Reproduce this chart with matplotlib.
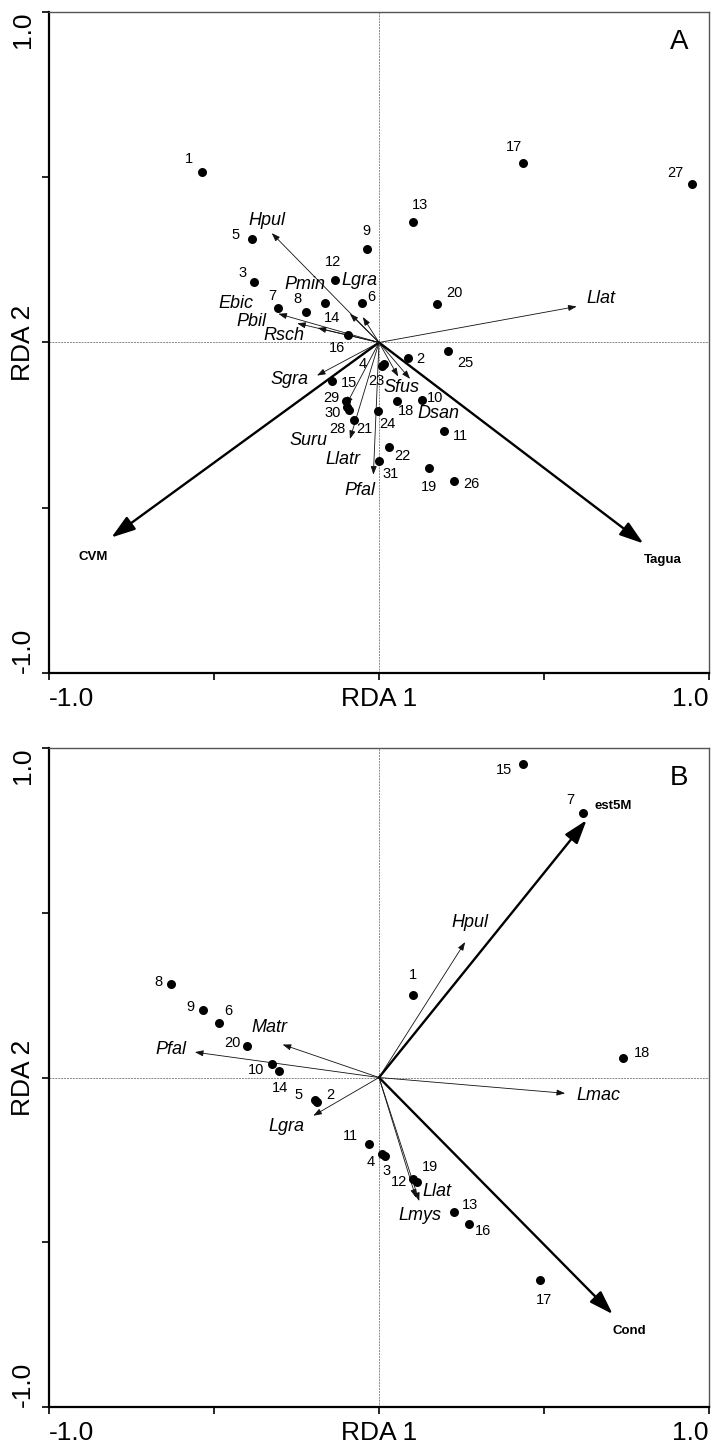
import matplotlib
matplotlib.use("Agg")
import matplotlib.pyplot as plt

plt.rcParams['font.family'] = ['Liberation Sans', 'DejaVu Sans']

# ---------------- Panel A data ----------------
a_site_ids = list(range(1, 32))
a_site_x = [-0.535, 0.089, -0.379, 0.008, -0.386, -0.052, -0.307, -0.222, -0.037, 0.130,
            0.198, -0.133, 0.102, -0.164, -0.143, -0.094, 0.435, 0.054, 0.152, 0.175,
            -0.075, 0.031, 0.014, -0.004, 0.210, 0.228, 0.947, -0.092, -0.100, -0.097, 0.001]
a_site_y = [0.515, -0.046, 0.182, -0.071, 0.313, 0.121, 0.104, 0.093, 0.283, -0.173,
            -0.267, 0.188, 0.365, 0.121, -0.118, 0.024, 0.542, -0.176, -0.380, 0.116,
            -0.234, -0.317, -0.066, -0.206, -0.027, -0.418, 0.479, -0.203, -0.176, -0.195, -0.358]

a_species = ['Hpul', 'Pmin', 'Lgra', 'Ebic', 'Pbil', 'Rsch', 'Llat', 'Sgra', 'Sfus', 'Dsan',
             'Suru', 'Llatr', 'Pfal']
a_species_x = [-0.325, -0.088, -0.049, -0.305, -0.248, -0.186, 0.599, -0.188, 0.058, 0.094,
               -0.100, -0.088, -0.017]
a_species_y = [0.331, 0.087, 0.077, 0.087, 0.058, 0.044, 0.109, -0.100, -0.103, -0.110,
               -0.190, -0.292, -0.400]

a_env = ['CVM', 'Tagua']
a_env_x = [-0.811, 0.801]
a_env_y = [-0.590, -0.608]

# ---------------- Panel B data ----------------
b_site_ids = list(range(1, 21))
b_site_x = [0.102, -0.187, 0.019, 0.009, -0.194, -0.484, 0.619, -0.631, -0.532, -0.325,
            -0.029, 0.102, 0.228, -0.303, 0.435, 0.273, 0.488, 0.740, 0.116, -0.399]
b_site_y = [0.249, -0.073, -0.238, -0.232, -0.067, 0.165, 0.803, 0.285, 0.206, 0.042,
            -0.202, -0.308, -0.409, 0.019, 0.952, -0.445, -0.614, 0.060, -0.318, 0.097]

b_species = ['Hpul', 'Matr', 'Pfal', 'Lgra', 'Llat', 'Lmys', 'Lmac']
b_species_x = [0.261, -0.292, -0.558, -0.199, 0.112, 0.122, 0.564]
b_species_y = [0.411, 0.100, 0.077, -0.116, -0.365, -0.375, -0.048]

b_env = ['est5M', 'Cond']
b_env_x = [0.629, 0.708]
b_env_y = [0.781, -0.718]

# ---------------- label placement (pixel offsets, image coords: +y = down) ----------------
a_site_off = {1: (-14, -13), 2: (12, 1), 3: (-11, -9), 4: (-19, -2), 5: (-16, -4), 6: (9, -6),
              7: (-5, -12), 8: (-8, -13), 9: (0, -18), 10: (13, -2), 11: (16, 5), 12: (-2, -18),
              13: (7, -17), 14: (7, 15), 15: (17, 2), 16: (-11, 13), 17: (-9, -16), 18: (9, 10),
              19: (0, 19), 20: (18, -11), 21: (10, 9), 22: (13, 9), 23: (-7, 17), 24: (10, 13),
              25: (17, 12), 26: (17, 3), 27: (-16, -11), 28: (-11, 19), 29: (-15, -3),
              30: (-14, 6), 31: (11, 13)}
a_species_off = {'Hpul': (-5, -13), 'Pmin': (-45, -29), 'Lgra': (-3, -37), 'Ebic': (-42, -10),
                 'Pbil': (-46, -2), 'Rsch': (-34, 8), 'Llat': (24, -8), 'Sgra': (-27, 4),
                 'Sfus': (3, 11), 'Dsan': (28, 35), 'Suru': (-38, 35), 'Llatr': (-7, 20),
                 'Pfal': (-13, 16)}
a_env_off = {'CVM': (-18, 20), 'Tagua': (19, 17)}

b_site_off = {1: (0, -20), 2: (13, -7), 3: (1, 15), 4: (-11, 8), 5: (-16, -5), 6: (9, -12),
              7: (-13, -13), 8: (-12, -2), 9: (-13, -3), 10: (-16, 6), 11: (-19, -8),
              12: (-14, 3), 13: (16, -7), 14: (1, 17), 15: (-19, 6), 16: (14, 7), 17: (4, 20),
              18: (19, -5), 19: (13, -15), 20: (-15, -3)}
b_species_off = {'Hpul': (5, -20), 'Matr': (-13, -17), 'Pfal': (-24, -3), 'Lgra': (-27, 11),
                 'Llat': (21, -6), 'Lmys': (1, 14), 'Lmac': (33, 2)}
b_env_off = {'est5M': (27, -14), 'Cond': (17, 17)}


def draw_panel(ax, letter, sx, sy, sids, soff, spn, spx, spy, spoff, en, ex, ey, eoff):
    ax.set_xlim(-1, 1)
    ax.set_ylim(-1, 1)
    ax.axhline(0, color='#888888', lw=0.7, ls=(0, (2, 1)), zorder=1)
    ax.axvline(0, color='#888888', lw=0.7, ls=(0, (2, 1)), zorder=1)

    # environmental arrows
    for n, x, y in zip(en, ex, ey):
        ax.annotate('', xy=(x, y), xytext=(0, 0),
                    arrowprops=dict(arrowstyle='-|>,head_length=1.0,head_width=0.33',
                                    mutation_scale=14.5, lw=1.7, color='black',
                                    shrinkA=0, shrinkB=0), zorder=3)
        dx, dy = eoff[n]
        ax.annotate(n, xy=(x, y), xytext=(dx, -dy), textcoords='offset pixels',
                    ha='center', va='center', fontsize=9.5, fontweight='bold', zorder=5)

    # species arrows
    for n, x, y in zip(spn, spx, spy):
        ax.annotate('', xy=(x, y), xytext=(0, 0),
                    arrowprops=dict(arrowstyle='-|>,head_length=0.5,head_width=0.18',
                                    mutation_scale=10, lw=0.6, color='#111111',
                                    shrinkA=0, shrinkB=0), zorder=3)
        dx, dy = spoff[n]
        ax.annotate(n, xy=(x, y), xytext=(dx, -dy), textcoords='offset pixels',
                    ha='center', va='center', fontsize=13, fontstyle='italic', zorder=5)

    # sites
    ax.scatter(sx, sy, s=42, color='black', zorder=4, linewidths=0)
    for i, x, y in zip(sids, sx, sy):
        dx, dy = soff[i]
        ax.annotate(str(i), xy=(x, y), xytext=(dx, -dy), textcoords='offset pixels',
                    ha='center', va='center', fontsize=10.5, zorder=5)

    # panel letter
    ax.text(0.955, 0.955, letter, transform=ax.transAxes, ha='center', va='center', fontsize=20)

    # frame
    for side in ['left', 'bottom']:
        ax.spines[side].set_linewidth(1.6)
        ax.spines[side].set_color('black')
    for side in ['top', 'right']:
        ax.spines[side].set_linewidth(1.0)
        ax.spines[side].set_color('#555555')
    ax.set_xticks([-1, -0.5, 0, 0.5, 1])
    ax.set_yticks([-1, -0.5, 0, 0.5, 1])
    ax.tick_params(direction='out', length=5, width=1.2, labelbottom=False, labelleft=False)

    # axis texts (CANOCO style)
    fs = 19
    ax.annotate('-1.0', xy=(-1, 0), xycoords=('data', 'axes fraction'), xytext=(0, -14),
                textcoords='offset pixels', ha='left', va='top', fontsize=fs)
    ax.annotate('1.0', xy=(1, 0), xycoords=('data', 'axes fraction'), xytext=(0, -14),
                textcoords='offset pixels', ha='right', va='top', fontsize=fs)
    ax.annotate('RDA 1', xy=(0, 0), xycoords=('data', 'axes fraction'), xytext=(0, -14),
                textcoords='offset pixels', ha='center', va='top', fontsize=fs)
    ax.annotate('1.0', xy=(0, 1), xycoords=('axes fraction', 'data'), xytext=(-14, 0),
                textcoords='offset pixels', ha='right', va='top', rotation=90, fontsize=fs)
    ax.annotate('-1.0', xy=(0, -1), xycoords=('axes fraction', 'data'), xytext=(-14, 0),
                textcoords='offset pixels', ha='right', va='bottom', rotation=90, fontsize=fs)
    ax.annotate('RDA 2', xy=(0, 0), xycoords=('axes fraction', 'data'), xytext=(-14, 0),
                textcoords='offset pixels', ha='right', va='center', rotation=90, fontsize=fs)


fig = plt.figure(figsize=(7.11, 14.44), dpi=100)
axA = fig.add_axes([49 / 711, 1 - 673 / 1444, 660 / 711, 661 / 1444])
axB = fig.add_axes([49 / 711, 1 - 1407 / 1444, 660 / 711, 659 / 1444])

draw_panel(axA, 'A', a_site_x, a_site_y, a_site_ids, a_site_off,
           a_species, a_species_x, a_species_y, a_species_off,
           a_env, a_env_x, a_env_y, a_env_off)
draw_panel(axB, 'B', b_site_x, b_site_y, b_site_ids, b_site_off,
           b_species, b_species_x, b_species_y, b_species_off,
           b_env, b_env_x, b_env_y, b_env_off)

fig.savefig('out.png', dpi=100)
